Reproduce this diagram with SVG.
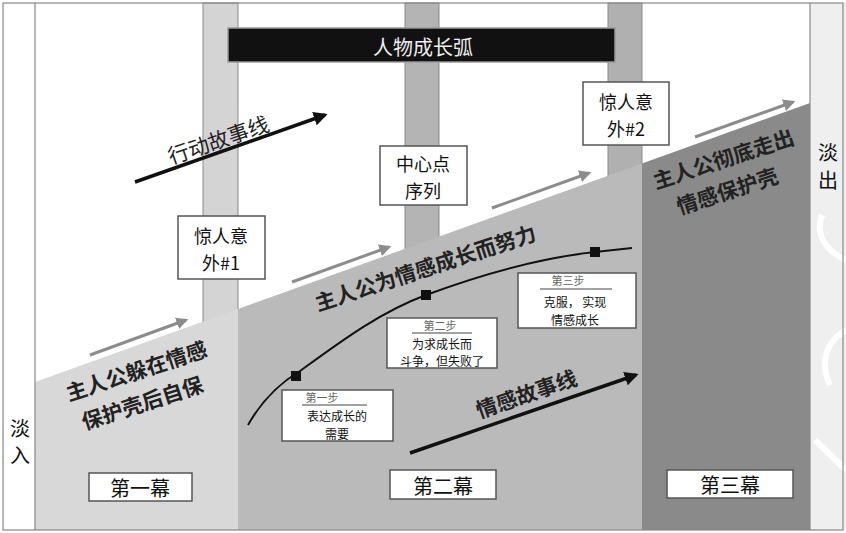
<svg xmlns="http://www.w3.org/2000/svg" width="846" height="533" viewBox="0 0 846 533">
<defs>
<style>
text{font-family:"Noto Sans CJK SC","Liberation Serif",serif;fill:#111;text-anchor:middle;dominant-baseline:central}
.box{fill:#fff;stroke:#555;stroke-width:1.5}
.pill{stroke:#8a8a8a;stroke-width:1}
.big{font-size:20px}
.bx{font-size:18px}
.diag{font-size:21px;font-weight:bold;fill:#222}
.step{font-size:12px}
.sttl{font-size:11px;fill:#666}
.black{stroke:#111;stroke-width:3.5;fill:none}
.gray{stroke:#8c8c8c;stroke-width:3;fill:none}
.sq{fill:#111}
</style>
<marker id="ab" viewBox="0 0 10 10" refX="8" refY="5" markerWidth="4" markerHeight="4" orient="auto"><path d="M0,0 L10,5 L0,10 z" fill="#111"/></marker>
<marker id="ag" viewBox="0 0 10 10" refX="8" refY="5" markerWidth="4" markerHeight="4" orient="auto"><path d="M0,0 L10,5 L0,10 z" fill="#8c8c8c"/></marker>
</defs>
<rect width="846" height="533" fill="#fff"/>
<g id="fade-out-strip">
<rect x="810" y="3" width="36" height="527" fill="#efefef"/>
<path d="M846,260 C825,250 815,235 822,215 M846,330 C828,340 818,360 830,385 M846,470 L815,440" stroke="#fff" stroke-width="6" fill="none"/>
</g>
<g id="pillars">
<rect class="pill" x="203" y="3" width="35" height="380" fill="#d4d4d4"/>
<rect class="pill" x="405" y="3" width="34" height="380" fill="#b4b4b4"/>
<rect class="pill" x="608" y="3" width="34" height="380" fill="#b0b0b0"/>
</g>
<g id="act1-region"><polygon points="35,382 238,308.9 238,530 35,530" fill="#d8d8d8"/></g>
<g id="act2-region"><polygon points="238,308.9 642,163.5 642,530 238,530" fill="#bababa"/></g>
<g id="act3-region"><polygon points="642,163.5 810,103 810,530 642,530" fill="#8a8a8a"/></g>
<g id="frame" fill="none" stroke="#888" stroke-width="1.2">
<rect x="3" y="3" width="840" height="527"/>
<line x1="35" y1="3" x2="35" y2="530"/>
<line x1="810" y1="3" x2="810" y2="530"/>
</g>
<g id="title">
<rect x="228" y="28" width="387" height="34" fill="#111" stroke="#999" stroke-width="1.5"/>
<text x="423" y="46" class="big" style="fill:#eee">人物成长弧</text>
</g>
<g id="fade-in"><text x="20" y="427" class="big">淡</text><text x="20" y="454" class="big">入</text></g>
<g id="fade-out"><text x="828" y="151" class="big">淡</text><text x="828" y="179" class="big">出</text></g>
<g id="connectors">
<line class="black" x1="135" y1="182" x2="325" y2="115" marker-end="url(#ab)"/>
<line class="black" x1="410" y1="453" x2="636" y2="375" marker-end="url(#ab)"/>
<line class="gray" x1="90" y1="355" x2="186" y2="320" marker-end="url(#ag)"/>
<line class="gray" x1="292" y1="282" x2="389" y2="247" marker-end="url(#ag)"/>
<line class="gray" x1="492" y1="208" x2="589" y2="173" marker-end="url(#ag)"/>
<line class="gray" x1="695" y1="137" x2="793" y2="102" marker-end="url(#ag)"/>
<path d="M248,425 C265,395 285,380 300,371 C340,342 380,312 426,295 C480,275 540,258 595,252 L632,248" stroke="#111" stroke-width="2" fill="none"/>
</g>
<g id="action-line-label"><text x="218" y="139" class="diag" style="font-weight:normal" transform="rotate(-19 218 139)">行动故事线</text></g>
<g id="emotion-line-label"><text x="526" y="393" class="diag" transform="rotate(-19 526 393)">情感故事线</text></g>
<g id="act1-diag"><text transform="rotate(-18 136 370)" x="136" y="370" class="diag">主人公躲在情感</text><text transform="rotate(-18 142 402)" x="142" y="402" class="diag">保护壳后自保</text></g>
<g id="act2-diag"><text transform="rotate(-18 425 267)" x="425" y="267" class="diag">主人公为情感成长而努力</text></g>
<g id="act3-diag"><text transform="rotate(-18 723 158)" x="723" y="158" class="diag">主人公彻底走出</text><text transform="rotate(-18 727 190)" x="727" y="190" class="diag">情感保护壳</text></g>
<g id="surprise1"><rect class="box" x="178" y="216" width="87" height="63"/><text x="221" y="235" class="bx">惊人意</text><text x="221" y="262" class="bx">外#1</text></g>
<g id="midpoint"><rect class="box" x="380" y="146" width="87" height="59"/><text x="423" y="163" class="bx">中心点</text><text x="423" y="190" class="bx">序列</text></g>
<g id="surprise2"><rect class="box" x="583" y="82" width="86" height="63"/><text x="626" y="101" class="bx">惊人意</text><text x="626" y="128" class="bx">外#2</text></g>
<g id="step1"><rect x="291" y="371" width="10" height="10" class="sq"/><rect class="box" x="282" y="390" width="111" height="51"/><text x="322" y="397" class="sttl">第一步</text><line x1="302" y1="405" x2="367" y2="405" stroke="#444" stroke-width="1"/><text x="337" y="415" class="step">表达成长的</text><text x="337" y="433" class="step">需要</text></g>
<g id="step2"><rect x="421" y="290" width="10" height="10" class="sq"/><rect class="box" x="387" y="318" width="110" height="50"/><text x="440" y="325" class="sttl">第二步</text><line x1="412" y1="333" x2="472" y2="333" stroke="#444" stroke-width="1"/><text x="442" y="343" class="step">为求成长而</text><text x="442" y="360" class="step">斗争，但失败了</text></g>
<g id="step3"><rect x="590" y="247" width="10" height="10" class="sq"/><rect class="box" x="518" y="273" width="118" height="55"/><text x="568" y="280" class="sttl">第三步</text><line x1="540" y1="289" x2="612" y2="289" stroke="#444" stroke-width="1"/><text x="575" y="301" class="step">克服， 实现</text><text x="575" y="319" class="step">情感成长</text></g>
<g id="act1"><rect class="box" x="89" y="473" width="103" height="28"/><text x="140" y="487" class="big">第一幕</text></g>
<g id="act2"><rect class="box" x="390" y="470" width="106" height="29"/><text x="443" y="485" class="big">第二幕</text></g>
<g id="act3"><rect class="box" x="667" y="470" width="126" height="28"/><text x="730" y="484" class="big">第三幕</text></g>
</svg>
